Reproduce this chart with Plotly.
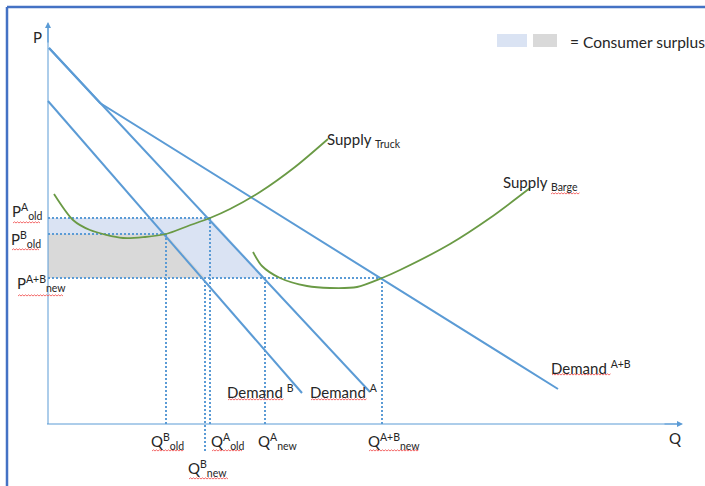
import plotly.graph_objects as go

# ---- data (Q, P units: pixels-scale economic units) ----
demandA_q = [1, 322]
demandA_p = [376, 32]
demandB_q = [0, 254]
demandB_p = [323, 31]
demandAB_q = [1, 52, 510]
demandAB_p = [376, 321, 35]

truck_q = [6, 25, 42, 75, 97, 118, 140, 162, 182, 212, 247, 280]
truck_p = [230, 204, 194, 186, 187, 190, 198, 206, 215, 232, 257, 285]
barge_q = [205, 214, 232, 259, 282, 309, 334, 352, 402, 442, 482]
barge_p = [172, 158, 146, 138, 136, 137, 146, 154, 180, 206, 236]

P_old_A, P_old_B, P_new = 206, 190, 146
Q_old_B, Q_new_B, Q_old_A, Q_new_A, Q_new_AB = 118, 157, 162, 217, 334

BLUE = "#5b9bd5"
GREEN = "#6a9a45"
FILL_BLUE = "#dae3f3"
FILL_GRAY = "#d9d9d9"
RED = "#f25a5a"
FONT = "Lato"

fig = go.Figure()

# consumer surplus areas
fig.add_trace(go.Scatter(x=[0, Q_old_A, Q_new_A, 0, 0], y=[P_old_A, P_old_A, P_new, P_new, P_old_A],
                         fill="toself", fillcolor=FILL_BLUE, line=dict(width=0), mode="lines", hoverinfo="skip"))
fig.add_trace(go.Scatter(x=[0, Q_old_B, Q_new_B, 0, 0], y=[P_old_B, P_old_B, P_new, P_new, P_old_B],
                         fill="toself", fillcolor=FILL_GRAY, line=dict(width=0), mode="lines", hoverinfo="skip"))

# dotted guide lines
dot = dict(color=BLUE, width=2, dash="2px,2px")
guides = [
    ([0, Q_old_A], [P_old_A, P_old_A]),
    ([0, Q_old_B], [P_old_B, P_old_B]),
    ([0, Q_new_AB], [P_new, P_new]),
    ([Q_old_B, Q_old_B], [0, P_old_B]),
    ([Q_new_B, Q_new_B], [-27, P_new]),
    ([Q_old_A, Q_old_A], [0, P_old_A]),
    ([Q_new_A, Q_new_A], [0, P_new]),
    ([Q_new_AB, Q_new_AB], [0, P_new]),
]
for gx, gy in guides:
    fig.add_trace(go.Scatter(x=gx, y=gy, mode="lines", line=dot, hoverinfo="skip"))

# demand lines
for qx, py in [(demandA_q, demandA_p), (demandB_q, demandB_p), (demandAB_q, demandAB_p)]:
    fig.add_trace(go.Scatter(x=qx, y=py, mode="lines", line=dict(color=BLUE, width=2), hoverinfo="skip"))

# supply curves
for qx, py in [(truck_q, truck_p), (barge_q, barge_p)]:
    fig.add_trace(go.Scatter(x=qx, y=py, mode="lines", line=dict(color=GREEN, width=1.8, shape="spline", smoothing=0.8),
                             hoverinfo="skip"))

shapes = [
    # axes
    dict(type="line", x0=0, y0=0, x1=0, y1=396, line=dict(color=BLUE, width=1)),
    dict(type="line", x0=-1, y0=0, x1=630, y1=0, line=dict(color=BLUE, width=1)),
    # frame
    dict(type="line", xref="paper", yref="paper", x0=7/705, y0=1-7/486, x1=1.01, y1=1-7/486,
         line=dict(color="#4472c4", width=2.5)),
    dict(type="line", xref="paper", yref="paper", x0=7/705, y0=1-7/486, x1=7/705, y1=-0.01,
         line=dict(color="#4472c4", width=2.5)),
    # legend swatches
    dict(type="rect", x0=449, x1=479, y0=377, y1=390, fillcolor=FILL_BLUE, line=dict(width=0)),
    dict(type="rect", x0=485, x1=509, y0=377, y1=390, fillcolor=FILL_GRAY, line=dict(width=0)),
]

# spell-check style wavy underlines (decoration): offsets relative to the label anchor
def squiggle(x0, x1, y):
    parts = [f"M {x0} {y}"]
    x, up = x0, True
    while x < x1:
        x += 1.5
        parts.append(f"L {x} {y + (1.2 if up else 0)}")
        up = not up
    return dict(type="path", path=" ".join(parts), line=dict(color=RED, width=0.9))

ann = []
def txt(x, y, t, size=15, xanchor="left", wavy=None):
    ann.append(dict(x=x, y=y, text=t, showarrow=False, xanchor=xanchor, yanchor="middle",
                    font=dict(family=FONT, size=size, color="#262626")))
    if wavy:
        w0, w1, wy = wavy
        shapes.append(squiggle(x + w0, x + w1, y + wy))

# arrowheads
ann.append(dict(x=0, y=402, ax=0, ay=380, axref="x", ayref="y", text="", showarrow=True,
                arrowhead=2, arrowsize=1, arrowwidth=1.2, arrowcolor=BLUE))
ann.append(dict(x=635, y=0, ax=615, ay=0, axref="x", ayref="y", text="", showarrow=True,
                arrowhead=2, arrowsize=1, arrowwidth=1.2, arrowcolor=BLUE))

txt(-11, 387, "P", 15, "center")
txt(627, -14, "Q", 15, "center")
txt(520, 382, "= Consumer surplus", 15.5)
txt(277, 284, "Supply <sub>Truck</sub>", 15)
txt(453, 241, "Supply <sub>Barge</sub>", 15, wavy=(50, 78, -11))
txt(501, 57, "Demand <sup>A+B</sup>", 15, wavy=(3, 61, -8))
txt(177, 33, "Demand <sup>B</sup>", 15, wavy=(3, 58, -9))
txt(260, 33, "Demand <sup>A</sup>", 15, wavy=(3, 58, -9))
txt(Q_old_B - 17, -17, "Q<sup>B</sup><sub>old</sub>", 15, wavy=(3, 34, -10))
txt(Q_old_A - 1, -17, "Q<sup>A</sup><sub>old</sub>", 15, wavy=(3, 33, -10))
txt(Q_new_A - 9, -17, "Q<sup>A</sup><sub>new</sub>", 15)
txt(Q_new_AB - 16, -17, "Q<sup>A+B</sup><sub>new</sub>", 15, wavy=(3, 52, -10))
txt(Q_new_B - 19, -44, "Q<sup>B</sup><sub>new</sub>", 15, wavy=(3, 42, -11))
txt(-38, P_old_A + 7, "P<sup>A</sup><sub>old</sub>", 15, wavy=(3, 30, -12))
txt(-39, P_old_B - 5, "P<sup>B</sup><sub>old</sub>", 15, wavy=(3, 30, -11))
txt(-33, P_new - 5, "P<sup>A+B</sup><sub>new</sub>", 15, wavy=(3, 48, -13))

fig.update_layout(
    width=705, height=486, margin=dict(l=0, r=0, t=0, b=0),
    paper_bgcolor="white", plot_bgcolor="white", showlegend=False,
    xaxis=dict(range=[-48, 657], visible=False, fixedrange=True),
    yaxis=dict(range=[-62, 424], visible=False, fixedrange=True),
    shapes=shapes, annotations=ann,
)
fig.write_html("out.html", config={"displayModeBar": False},
               post_script="document.body.style.margin='0';document.body.style.overflow='hidden';")
